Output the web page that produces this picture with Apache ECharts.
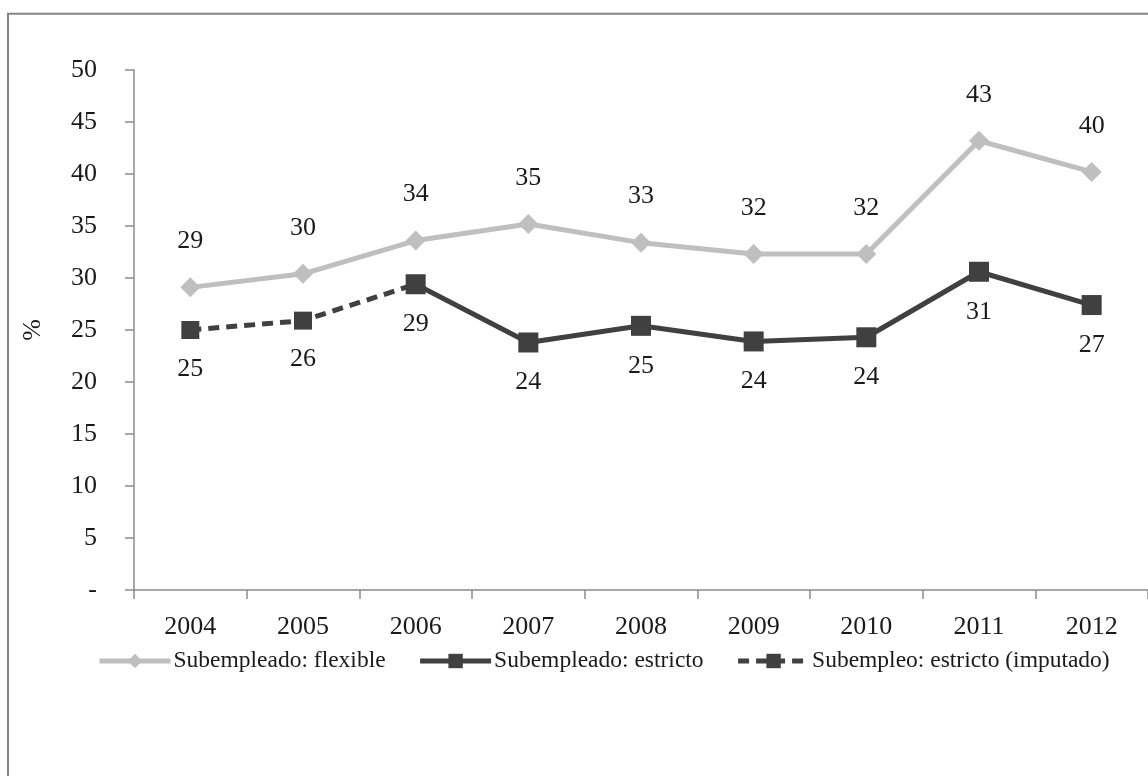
<!DOCTYPE html>
<html>
<head>
<meta charset="utf-8">
<script src="https://cdn.jsdelivr.net/npm/echarts@6/dist/echarts.min.js"></script>
<style>html,body{margin:0;padding:0;background:#fff;}#c{width:1148px;height:776px;}</style>
</head>
<body>
<div id="c"></div>
<script>
const categories = ['2004','2005','2006','2007','2008','2009','2010','2011','2012'];
const flexible = [29.1, 30.4, 33.6, 35.2, 33.4, 32.3, 32.3, 43.2, 40.2];
const estricto = [null, null, 29.4, 23.8, 25.4, 23.9, 24.3, 30.6, 27.4];
const imputado = [25.0, 25.9, 29.4, null, null, null, null, null, null];
const imputadoLabelShown = [true, true, false, false, false, false, false, false, false];
const yTicks = [0, 5, 10, 15, 20, 25, 30, 35, 40, 45, 50];
const seriesNames = ['Subempleado: flexible', 'Subempleado: estricto', 'Subempleo: estricto (imputado)'];

const FONT = '"Liberation Serif", "DejaVu Serif", serif';
const chart = echarts.init(document.getElementById('c'), null, {renderer: 'canvas'});
const lbl = {fontFamily: FONT, fontSize: 26, color: '#1a1a1a'};

chart.setOption({
  animation: false,
  backgroundColor: '#fff',
  graphic: [{
    type: 'rect', x: 0, y: 0, silent: true,
    shape: {x: 8, y: 13.7, width: 1200, height: 800},
    style: {fill: null, stroke: '#858585', lineWidth: 2}
  }],
  grid: {left: 134, top: 70, width: 1026, height: 520, containLabel: false},
  xAxis: {
    type: 'category', data: categories, boundaryGap: true,
    axisLine: {lineStyle: {color: '#8c8c8c', width: 1.5}},
    axisTick: {show: true, length: 9, alignWithLabel: false, lineStyle: {color: '#8c8c8c', width: 1.5}},
    axisLabel: Object.assign({margin: 24}, lbl),
    splitLine: {show: false}
  },
  yAxis: {
    type: 'value', min: 0, max: 50, interval: 5,
    name: '%', nameLocation: 'middle', nameGap: 88, nameRotate: 90,
    nameTextStyle: lbl,
    axisLine: {show: true, lineStyle: {color: '#8c8c8c', width: 1.5}},
    axisTick: {show: true, length: 9, lineStyle: {color: '#8c8c8c', width: 1.5}},
    axisLabel: Object.assign({margin: 37, formatter: v => (v === 0 ? '-' : String(v))}, lbl),
    splitLine: {show: false}
  },
  legend: {
    bottom: 103, left: 97, padding: 0,
    itemWidth: 71, itemHeight: 18, itemGap: 32,
    lineStyle: {width: 5},
    textStyle: {fontFamily: FONT, fontSize: 23.5, color: '#1a1a1a', padding: [0,0,0,-2]},
    data: seriesNames
  },
  series: [
    {
      name: seriesNames[0], type: 'line', data: flexible, z: 2,
      symbol: 'diamond', symbolSize: 20,
      lineStyle: {color: '#bfbfbf', width: 5},
      itemStyle: {color: '#bfbfbf'},
      label: Object.assign({show: true, position: 'top', distance: 23, formatter: p => Math.round(p.value)}, lbl)
    },
    {
      name: seriesNames[2], type: 'line', z: 3,
      data: imputado.map((v, i) => ({value: v, label: {show: imputadoLabelShown[i]}})),
      symbol: 'rect', symbolSize: 18,
      lineStyle: {color: '#404040', width: 5, type: [11, 7]},
      itemStyle: {color: '#404040'},
      label: Object.assign({position: 'bottom', distance: 17, formatter: p => Math.round(p.value)}, lbl)
    },
    {
      name: seriesNames[1], type: 'line', data: estricto, z: 4,
      symbol: 'rect', symbolSize: 20,
      lineStyle: {color: '#404040', width: 5},
      itemStyle: {color: '#404040'},
      label: Object.assign({show: true, position: 'bottom', distance: 17, formatter: p => Math.round(p.value)}, lbl)
    }
  ]
});
</script>
</body>
</html>
